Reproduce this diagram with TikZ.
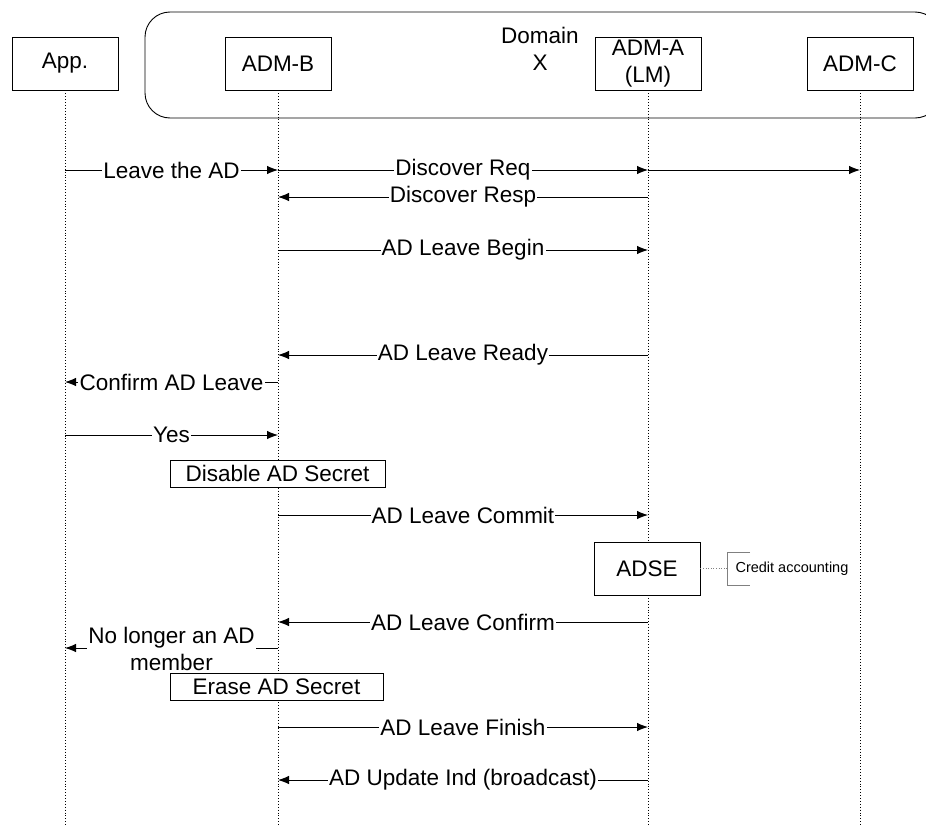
\documentclass[tikz,border=0pt]{standalone}
\usepackage{fontspec}
\setmainfont{Liberation Sans}
\usetikzlibrary{arrows.meta}
\begin{document}
\begin{tikzpicture}[x=1pt,y=-1pt,
  every node/.style={font=\fontsize{22.5}{27}\selectfont},
  actor/.style={draw,line width=0.9pt,fill=white,minimum width=106pt,minimum height=53pt,inner sep=0pt,align=center},
  life/.style={dotted,line width=0.9pt},
  msg/.style={line width=0.9pt,-{Latex[length=11pt,width=8.5pt]}},
  lbl/.style={fill=white,inner sep=1.2pt},
  actbox/.style={draw,line width=0.9pt,fill=white,inner sep=0pt,minimum height=27pt}]
\useasboundingbox (0,0) rectangle (926,827);
% domain
\draw[line width=0.9pt,rounded corners=25pt] (145,12) rectangle (940,118);
\node (dom) at (540,49) [align=center] {Domain\\X};
% actors
\node[actor] (app) at (65,63.5) {App.};
\node[actor] (admb) at (278,63.5) {ADM-B};
\node[actor] (adma) at (648,63.5) {ADM-A\\(LM)};
\node[actor] (admc) at (860,63.5) {ADM-C};
\coordinate (appE) at (65,827);
\coordinate (admbE) at (278,827);
\coordinate (admaE) at (648,827);
\coordinate (admcE) at (860,827);
\draw[life] (app.south) -- (appE);
\draw[life] (admb.south) -- (admbE);
\draw[life] (adma.south) -- (admaE);
\draw[life] (admc.south) -- (admcE);
% messages
\draw[msg] (app |- 0,170) -- (admb |- 0,170) node[midway,lbl] {Leave the AD};
\draw[msg] (admb |- 0,170) -- (adma |- 0,170) node[midway,lbl] {Discover Req};
\draw[msg] (adma |- 0,170) -- (admc |- 0,170);
\draw[msg] (adma |- 0,197) -- (admb |- 0,197) node[midway,lbl] {Discover Resp};
\draw[msg] (admb |- 0,250) -- (adma |- 0,250) node[midway,lbl] {AD Leave Begin};
\draw[msg] (adma |- 0,355) -- (admb |- 0,355) node[midway,lbl] {AD Leave Ready};
\draw[msg] (admb |- 0,382) -- (app |- 0,382) node[midway,lbl] {Confirm AD Leave};
\draw[msg] (app |- 0,435) -- (admb |- 0,435) node[midway,lbl] {Yes};
\node[actbox,minimum width=215pt] (dis) at (277.5,473.5) {Disable AD Secret};
\draw[msg] (admb |- 0,515) -- (adma |- 0,515) node[midway,lbl] {AD Leave Commit};
\node[actor] (adse) at (647,568.5) {ADSE};
\coordinate (brk) at (727,568.5);
\draw[dotted,gray,line width=0.6pt] (adse.east) -- (brk);
\draw[gray,line width=0.8pt] (750,552) -- (727,552) -- (727,585) -- (750,585);
\node[anchor=west,font=\fontsize{14.5}{16}\selectfont] (credit) at (732,568.5) {Credit accounting};
\draw[msg] (adma |- 0,622) -- (admb |- 0,622) node[midway,lbl] {AD Leave Confirm};
\draw[msg] (admb |- 0,648) -- (app |- 0,648) node[midway,lbl,align=center,yshift=-1pt] {No longer an AD\\member};
\node[actbox,minimum width=213pt] (era) at (276.5,687) {Erase AD Secret};
\draw[msg] (admb |- 0,727) -- (adma |- 0,727) node[midway,lbl] {AD Leave Finish};
\draw[msg] (adma |- 0,780) -- (admb |- 0,780) node[midway,lbl] {AD Update Ind (broadcast)};
\end{tikzpicture}
\end{document}
